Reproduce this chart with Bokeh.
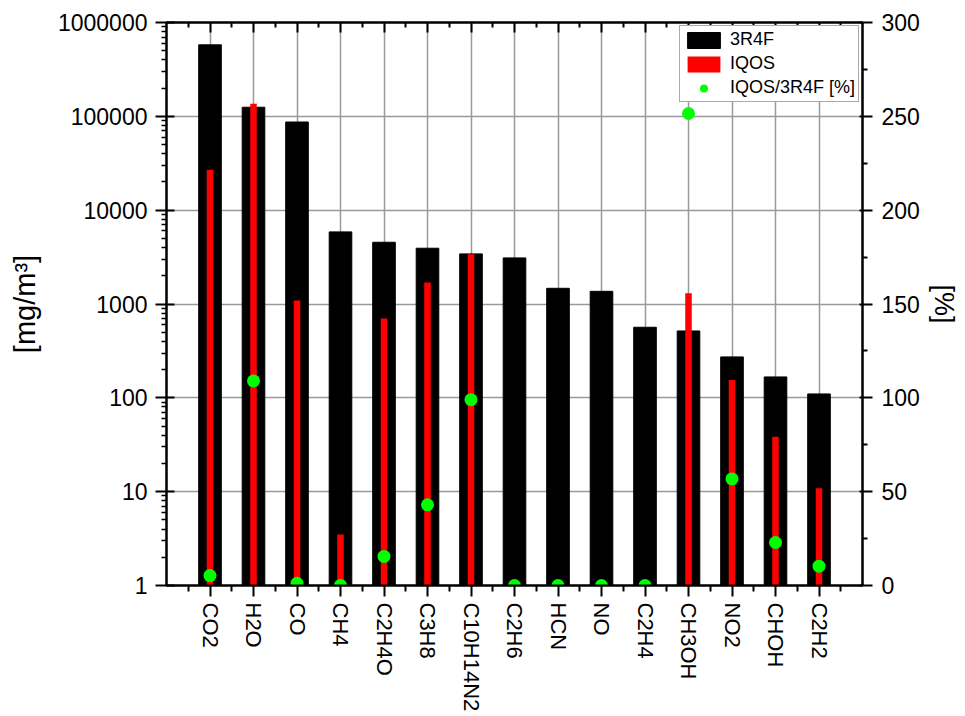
import math
from bokeh.plotting import figure
from bokeh.models import (Range1d, LinearAxis, FixedTicker, LinearScale, ColumnDataSource,
                          Legend, LegendItem, NumeralTickFormatter)
from bokeh.embed import file_html
from bokeh.resources import INLINE

nan = float("nan")

compounds = ["CO2", "H2O", "CO", "CH4", "C2H4O", "C3H8", "C10H14N2", "C2H6",
             "HCN", "NO", "C2H4", "CH3OH", "NO2", "CHOH", "C2H2"]
conc_3r4f = [578000, 125000, 87000, 5870, 4550, 3930, 3420, 3100,
             1470, 1365, 565, 516, 273, 167, 110]
conc_iqos = [26900, 136000, 1090, 3.5, 700, 1700, 3400, nan,
             nan, nan, nan, 1300, 155, 38.5, 10.9]
ratio_pct = [5.3, 109, 1.2, 0.06, 15.5, 43, 99, 0,
             0, 0, 0, 251.5, 56.8, 22.9, 10.3]

y_major = [1, 10, 100, 1000, 10000, 100000, 1000000]
pct_major = [0, 50, 100, 150, 200, 250, 300]

FONT = "Liberation Sans"

pos = list(range(1, len(compounds) + 1))
src = ColumnDataSource(dict(x=pos, ref=conc_3r4f, iqos=conc_iqos, pct=ratio_pct))

p = figure(width=961, height=714, output_backend="svg", toolbar_location=None,
           x_range=Range1d(0, len(compounds) + 1), y_range=Range1d(y_major[0], y_major[-1]),
           y_axis_type="log", min_border_left=166, min_border_right=94,
           min_border_top=22, min_border_bottom=129)
p.background_fill_color = "white"
p.border_fill_color = "white"
p.outline_line_color = "black"
p.outline_line_width = 2

x_ticker = FixedTicker(ticks=pos, minor_ticks=[v - 0.5 for v in pos] + [pos[-1] + 0.5])
y_minor = [m * y for y in y_major[:-1] for m in range(2, 10)]
y_ticker = FixedTicker(ticks=y_major, minor_ticks=y_minor)

# bottom axis
xa = p.xaxis[0]
xa.ticker = x_ticker
xa.major_label_overrides = {v: c for v, c in zip(pos, compounds)}
xa.major_label_orientation = "vertical"
xa.major_label_text_font = FONT
xa.major_label_text_font_size = "22px"
xa.major_label_text_color = "black"
xa.major_label_standoff = 6
xa.major_tick_out = 11
xa.major_tick_in = 0
xa.minor_tick_out = 6
xa.minor_tick_in = 0
xa.axis_line_width = 2
xa.major_tick_line_width = 2
xa.minor_tick_line_width = 2

# left axis
ya = p.yaxis[0]
ya.ticker = y_ticker
ya.formatter = NumeralTickFormatter(format="0")
ya.major_label_text_font = FONT
ya.major_label_text_font_size = "23px"
ya.major_label_text_color = "black"
ya.major_label_standoff = 8
ya.major_tick_out = 11
ya.major_tick_in = 8
ya.minor_tick_out = 5
ya.minor_tick_in = 0
ya.axis_line_width = 2
ya.major_tick_line_width = 2
ya.minor_tick_line_width = 1.5
ya.axis_label = "[mg/m³]"
ya.axis_label_text_font = FONT
ya.axis_label_text_font_size = "29px"
ya.axis_label_text_font_style = "normal"
ya.axis_label_text_color = "black"
ya.axis_label_standoff = 14

# right axis
p.extra_y_ranges = {"pct": Range1d(pct_major[0], pct_major[-1])}
p.extra_y_scales = {"pct": LinearScale()}
ra = LinearAxis(y_range_name="pct",
                ticker=FixedTicker(ticks=pct_major,
                                   minor_ticks=[v + 25 for v in pct_major[:-1]]))
ra.major_label_text_font = FONT
ra.major_label_text_font_size = "23px"
ra.major_label_text_color = "black"
ra.major_label_standoff = 9
ra.major_tick_out = 10
ra.major_tick_in = 3
ra.minor_tick_out = 5
ra.minor_tick_in = 0
ra.axis_line_width = 2
ra.major_tick_line_width = 2
ra.minor_tick_line_width = 2
ra.axis_label = "[%]"
ra.axis_label_text_font = FONT
ra.axis_label_text_font_size = "27px"
ra.axis_label_text_font_style = "normal"
ra.axis_label_text_color = "black"
ra.axis_label_standoff = 6
p.add_layout(ra, "right")

# top axis (ticks only)
ta = LinearAxis(ticker=x_ticker)
ta.major_label_overrides = {v: "" for v in pos}
ta.major_label_text_font_size = "1px"
ta.major_label_standoff = 0
ta.major_tick_out = 0
ta.major_tick_in = 10
ta.minor_tick_out = 0
ta.minor_tick_in = 5
ta.axis_line_width = 2
ta.major_tick_line_width = 2
ta.minor_tick_line_width = 2
p.add_layout(ta, "above")

# grids
p.xgrid.ticker = x_ticker
p.xgrid.grid_line_color = "#9a9a9a"
p.xgrid.grid_line_width = 1.5
p.ygrid.grid_line_color = "#9a9a9a"
p.ygrid.grid_line_width = 1.5

r_ref = p.vbar(x="x", top="ref", bottom=1, width=0.52, source=src,
               fill_color="black", line_color="black")
r_iqos = p.vbar(x="x", top="iqos", bottom=1, width=0.15, source=src,
                fill_color="#ff0000", line_color=None)
r_pct = p.scatter(x="x", y="pct", y_range_name="pct", size=13, source=src,
                  fill_color="#00ff00", line_color=None)

legend = Legend(items=[LegendItem(label="3R4F", renderers=[r_ref]),
                       LegendItem(label="IQOS", renderers=[r_iqos]),
                       LegendItem(label="IQOS/3R4F [%]", renderers=[r_pct])],
                location=(513, 483), padding=3, spacing=3,
                glyph_width=41, glyph_height=20, label_height=20, label_standoff=6,
                label_text_font=FONT, label_text_font_size="18px",
                label_text_color="black",
                border_line_color="#555555", border_line_width=1,
                background_fill_alpha=1.0)
p.add_layout(legend)

open("out.html", "w").write(file_html(p, INLINE))
